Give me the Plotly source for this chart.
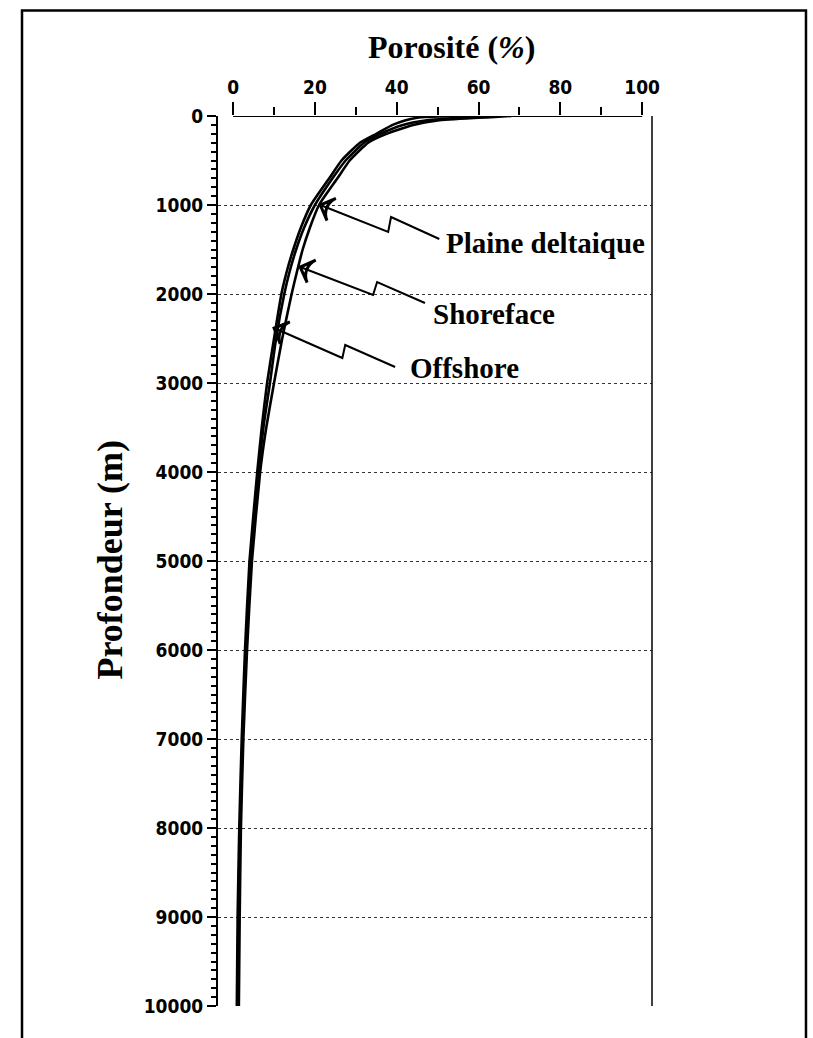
import plotly.graph_objects as go

# Depth samples (m) and porosity (%) for the three depositional environments
depth = [0, 10, 20, 50, 100, 200, 300, 500, 700, 1000, 1250, 1500, 1750, 2000, 2500,
         3000, 3500, 4000, 5000, 6000, 7000, 8000, 9000, 10000]
shoreface = [68, 64, 60, 50, 44, 37.5, 33, 28.5, 25.5, 21, 18.8, 17, 15.6, 14.3, 12,
             10, 8.1, 6.6, 4.6, 3.4, 2.5, 1.9, 1.6, 1.4]
plaine_deltaique = [62, 58, 55, 47, 41.5, 36, 32, 27.5, 24.3, 20, 17.4, 15.4, 13.8, 12.5, 10.5,
                    9, 7.4, 6.2, 4.3, 3.2, 2.3, 1.7, 1.3, 1.1]
offshore = [55, 47, 45, 42, 39, 35, 31, 26.5, 23.5, 19, 16.6, 14.7, 13.1, 11.8, 10,
            8.3, 7.0, 5.9, 4.0, 2.9, 2.1, 1.5, 1.1, 0.9]

# Callout labels: text anchor and zig-zag leader (porosity %, depth m), ending at the arrow tip
labels = ["Plaine deltaique", "Shoreface", "Offshore"]
label_pos = [(51.6, 1427), (48.4, 2225), (42.8, 2831)]
leader_x = [[50.4, 38.6, 37.9, 21.3],
            [46.9, 35.2, 34.2, 16.4],
            [39.6, 27.4, 26.7, 10.0]]
leader_y = [[1382, 1135, 1303, 1000],
            [2101, 1865, 2011, 1697],
            [2820, 2573, 2719, 2382]]

x_ticks = [0, 20, 40, 60, 80, 100]
y_ticks = list(range(0, 10001, 1000))
y_ticktext = [str(v) for v in y_ticks]

TICK_FONT = dict(family="Liberation Sans Narrow, DejaVu Sans Condensed, Arial Narrow, sans-serif",
                 size=19, color="black", weight="bold")
SERIF = "Liberation Serif, Times New Roman, serif"

fig = go.Figure()

for name, series in [("Offshore", offshore), ("Plaine deltaique", plaine_deltaique),
                     ("Shoreface", shoreface)]:
    fig.add_trace(go.Scatter(x=series, y=depth, mode="lines", name=name,
                             line=dict(color="black", width=2.6, shape="spline", smoothing=0.5),
                             showlegend=False, hoverinfo="skip"))

# Zig-zag leaders
for lx, ly in zip(leader_x, leader_y):
    fig.add_trace(go.Scatter(x=lx, y=ly, mode="lines", line=dict(color="black", width=2),
                             showlegend=False, hoverinfo="skip"))
    # open arrowhead at the tip, oriented along the last leader segment
    fig.add_trace(go.Scatter(
        x=lx[-2:], y=ly[-2:], mode="markers", opacity=1,
        marker=dict(symbol=["circle", "arrow-wide-open"], size=[0, 17], angleref="previous",
                    opacity=1, color="#000000", line=dict(color="#000000", width=3)),
        showlegend=False, hoverinfo="skip"))

for text, (tx, ty) in zip(labels, label_pos):
    fig.add_annotation(x=tx, y=ty, text=text, showarrow=False, xanchor="left", yanchor="middle",
                       font=dict(family=SERIF, size=29, color="black", weight="bold"))

# Top axis line spans only 0-100 %
fig.add_shape(type="line", xref="x", yref="y", x0=0, x1=100, y0=0, y1=0,
              line=dict(color="black", width=2))
# Right edge of the plotting area
fig.add_shape(type="line", xref="x domain", yref="y domain", x0=1, x1=1, y0=0, y1=1,
              line=dict(color="black", width=1.5))
# Outer frame (left, top, right)
fig.add_shape(type="path", xref="paper", yref="paper",
              path="M -0.4516,-0.05 L -0.4516,1.1185 L 1.3548,1.1185 L 1.3548,-0.05",
              line=dict(color="black", width=2.5))

fig.update_xaxes(range=[-3.7, 102.4], side="top", tickmode="array", tickvals=x_ticks,
                 ticks="outside", ticklen=13, tickwidth=1.5, tickcolor="black",
                 minor=dict(tickmode="linear", tick0=0, dtick=10, ticks="outside",
                            ticklen=8, tickwidth=1.5, tickcolor="black", showgrid=False),
                 showgrid=False, zeroline=False, showline=False, tickfont=TICK_FONT)
fig.update_yaxes(range=[10000, 0], tickmode="array", tickvals=y_ticks, ticktext=y_ticktext,
                 ticks="outside", ticklen=9, tickwidth=2, tickcolor="black",
                 minor=dict(tickmode="linear", tick0=0, dtick=100, ticks="outside",
                            ticklen=5, tickwidth=1.5, tickcolor="black", showgrid=False),
                 showgrid=True, gridcolor="#333333", gridwidth=1, griddash="dot",
                 zeroline=False, showline=True, linecolor="black", linewidth=2,
                 tickfont=TICK_FONT)

fig.add_annotation(text="Porosité (<i>%</i>)", xref="paper", yref="paper", x=0.538, y=1.078,
                   showarrow=False, xanchor="center", yanchor="middle",
                   font=dict(family=SERIF, size=32, color="black", weight="bold"))
fig.add_annotation(text="Profondeur (m)", xref="paper", yref="paper", x=-0.248, y=0.502,
                   showarrow=False, textangle=-90, xanchor="center", yanchor="middle",
                   font=dict(family=SERIF, size=36, color="black", weight="bold"))

fig.update_layout(width=813, height=1038, margin=dict(l=218, r=161, t=116, b=32),
                  paper_bgcolor="white", plot_bgcolor="white")

fig.write_html("out.html")
